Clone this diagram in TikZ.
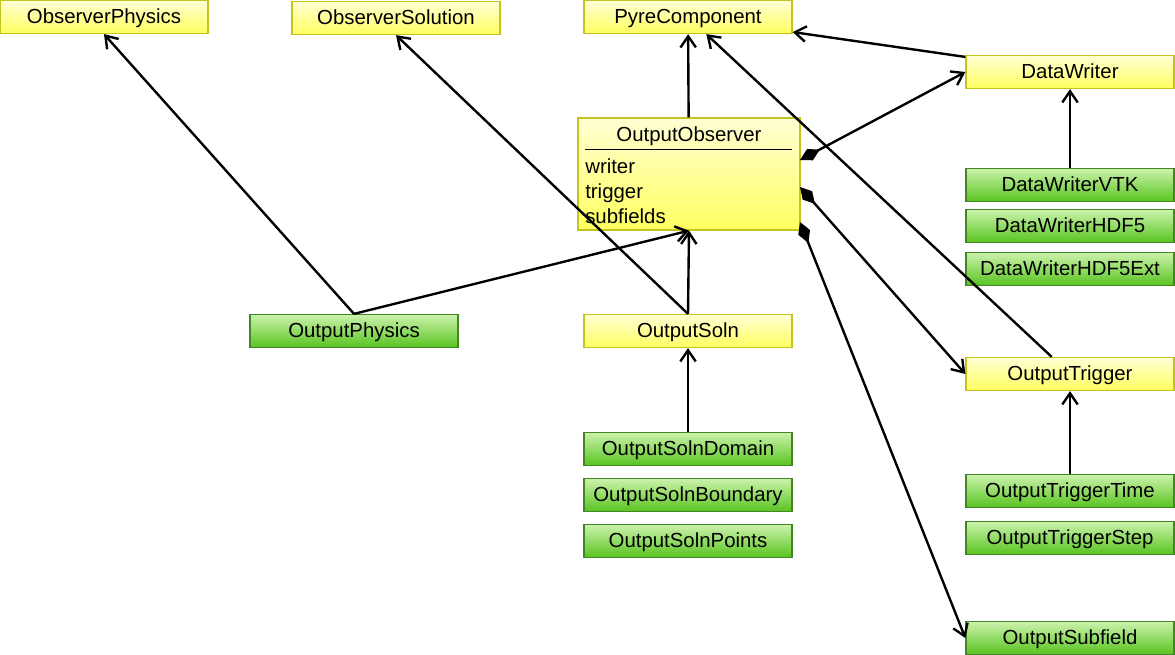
\documentclass[tikz,border=0pt]{standalone}
\usepackage{fontspec}
\setmainfont{Liberation Sans}
\usetikzlibrary{arrows.meta}
\definecolor{ylwtop}{RGB}{255,255,212}
\definecolor{ylwbot}{RGB}{255,255,96}
\definecolor{ylwline}{RGB}{196,196,30}
\definecolor{grntop}{RGB}{204,242,172}
\definecolor{grnbot}{RGB}{88,196,32}
\definecolor{grnline}{RGB}{66,134,38}
\tikzset{
  label/.style={font=\fontsize{14.5}{16}\selectfont, text height=10.5pt, text depth=1.5pt},
  box/.style={label, minimum width=5.2cm, minimum height=0.825cm, inner sep=0pt, line width=0.9pt},
  iface/.style={box, draw=ylwline, top color=ylwtop, bottom color=ylwbot},
  impl/.style={box, draw=grnline, top color=grntop, bottom color=grnbot},
  isa/.style={line width=1.7pt, -{Straight Barb[length=8pt,width=11pt,line width=1.7pt]}},
  hasa/.style={line width=1.7pt, {Diamond[length=16pt,width=9pt]}-{Straight Barb[length=8pt,width=11pt,line width=1.7pt]}}
}
\begin{document}
\begin{tikzpicture}[x=0.025cm, y=-0.025cm]
\useasboundingbox (0,0) rectangle (1175,655);

\node [iface] (obsphys) at (104,17) {ObserverPhysics};
\node [iface] (obssoln) at (396,18) {ObserverSolution};
\node [iface] (pyre) at (688,17) {PyreComponent};
\node [iface] (writer) at (1070,72) {DataWriter};
\node [impl] (vtk) at (1070,185) {DataWriterVTK};
\node [impl] (hdf) at (1070,226) {DataWriterHDF5};
\node [impl] (hdfext) at (1070,269) {DataWriterHDF5Ext};
\node [impl] (outphys) at (354,331) {OutputPhysics};
\node [iface] (outsoln) at (688,331) {OutputSoln};
\node [iface] (trigger) at (1070,374) {OutputTrigger};
\node [impl] (domain) at (688,449) {OutputSolnDomain};
\node [impl] (bndry) at (688,495) {OutputSolnBoundary};
\node [impl] (points) at (688,541) {OutputSolnPoints};
\node [impl] (trigtime) at (1070,491) {OutputTriggerTime};
\node [impl] (trigstep) at (1070,538) {OutputTriggerStep};
\node [impl] (subfield) at (1070,638) {OutputSubfield};

% class box with attributes
\node [iface, minimum width=5.55cm, minimum height=2.8cm] (observer) at (689,174) {};
\node [label] (obstitle) at (689,135) {OutputObserver};
\draw [line width=0.5pt] (585,149) -- (792,149);
\node [label, anchor=west, inner sep=0pt] (attwriter) at (585,167) {writer};
\node [label, anchor=west, inner sep=0pt] (atttrigger) at (585,192) {trigger};
\node [label, anchor=west, inner sep=0pt] (attsub) at (585,217) {subfields};
\coordinate (ownwriter) at (800,160);
\coordinate (owntrigger) at (800,187);
\coordinate (ownsub) at (800,222);

\draw [isa] (observer) -- (pyre);
\draw [isa] (writer) -- (pyre);
\draw [isa] (trigger) -- (pyre);
\draw [isa] (vtk) -- (writer);
\draw [isa] (outphys.north) -- (obsphys.south);
\draw [isa] (outphys.north) -- (observer.south);
\draw [isa] (outsoln.north) -- (observer.south);
\draw [isa] (outsoln.north) -- (obssoln.south);
\draw [isa] (domain) -- (outsoln);
\draw [isa] (trigtime) -- (trigger);
\draw [hasa] (ownwriter) -- (writer.west);
\draw [hasa] (owntrigger) -- (trigger.west);
\draw [hasa] (ownsub) -- (subfield.west);
\end{tikzpicture}
\end{document}
